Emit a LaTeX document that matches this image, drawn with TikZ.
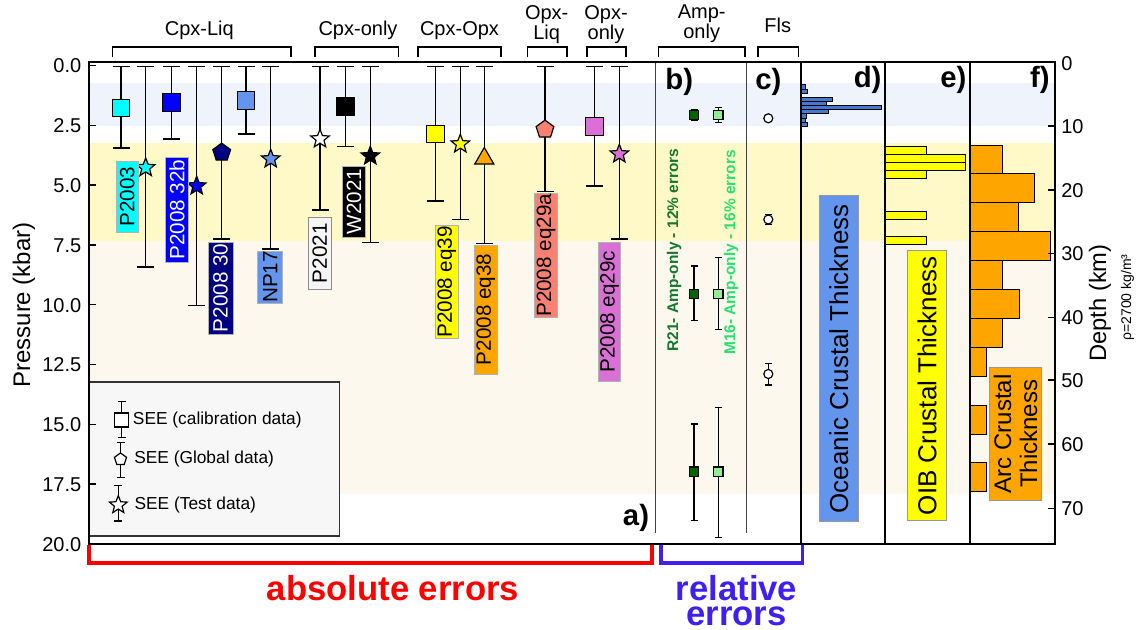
\documentclass[tikz,border=0pt]{standalone}
\usepackage{fontspec}
\setmainfont{Liberation Sans}
\usetikzlibrary{shapes.geometric}
\definecolor{bandblue}{RGB}{238,243,252}
\definecolor{bandyellow}{RGB}{255,249,199}
\definecolor{bandcream}{RGB}{253,248,237}
\definecolor{cyanc}{RGB}{0,255,255}
\definecolor{bluec}{RGB}{0,0,255}
\definecolor{cornfl}{RGB}{100,149,237}
\definecolor{navyc}{RGB}{0,0,128}
\definecolor{yellowc}{RGB}{255,255,0}
\definecolor{orangec}{RGB}{255,165,0}
\definecolor{salmonc}{RGB}{250,128,114}
\definecolor{orchidc}{RGB}{218,112,214}
\definecolor{ltgray}{RGB}{245,245,245}
\definecolor{dgreen}{RGB}{0,100,0}
\definecolor{lgreen}{RGB}{144,238,144}
\definecolor{dgreentxt}{RGB}{20,120,45}
\definecolor{lgreentxt}{RGB}{40,225,110}
\definecolor{histblue}{RGB}{70,120,205}
\definecolor{relblue}{RGB}{64,32,240}
\definecolor{redc}{RGB}{255,0,0}
\definecolor{legfill}{RGB}{247,247,247}
\newcommand\pebar[4]{%
  \draw[ebar] (#1,#2) -- (#1,#3);
  \draw[ebar] (#1-#4,#2) -- (#1+#4,#2);
  \draw[ebar] (#1-#4,#3) -- (#1+#4,#3);}
\newcommand\tbrk[2]{\draw[brk] (#1,56.7) -- (#1,47.3) -- (#2,47.3) -- (#2,56.7);}
\begin{document}
\begin{tikzpicture}[x=0.75pt,y=-0.75pt,
  ebar/.style={line width=0.95pt, black},
  mk/.style={draw=black, line width=0.9pt, inner sep=0pt},
  msq/.style={mk, rectangle, minimum size=13.3pt},
  mstar/.style={mk, star, star points=5, star point ratio=2.3, minimum size=14.5pt},
  mpent/.style={mk, regular polygon, regular polygon sides=5, minimum size=14pt},
  mtri/.style={mk, regular polygon, regular polygon sides=3, minimum size=16.5pt},
  gsq/.style={mk, rectangle, minimum size=7pt},
  circ/.style={mk, circle, fill=white, minimum size=6.75pt},
  rlab/.style={rotate=90, inner sep=0pt, font=\fontsize{15.5}{18}\selectfont, draw=black!30, line width=0.5pt},
  biglab/.style={rotate=90, inner sep=0pt, draw=black!40, line width=0.6pt, align=center},
  frame/.style={line width=1.5pt},
  tk/.style={line width=1.1pt},
  ticklab/.style={font=\fontsize{15}{17}\selectfont, inner sep=0pt},
  toplab/.style={font=\fontsize{15}{11}\selectfont, align=center, inner sep=0pt},
  brk/.style={line width=1.2pt},
  plet/.style={font=\fontsize{22}{26}\selectfont\bfseries, anchor=base east, inner sep=0pt},
  hist/.style={draw=black, line width=0.7pt},
  legtxt/.style={font=\fontsize{13}{15}\selectfont, anchor=west, inner sep=0pt},
  bigtxt/.style={font=\fontsize{26}{28}\selectfont\bfseries, anchor=base, inner sep=0pt}]
\useasboundingbox (0,0) rectangle (1144,630);
\fill[white] (0,0) rectangle (1144,630);
% background bands
\fill[bandblue] (89,82.7) rectangle (1055,126);
\fill[bandyellow] (89,143) rectangle (1055,240.7);
\fill[bandcream] (89,240.7) rectangle (1055,494);
% histogram d
\foreach \a/\b/\r in {84.8/88.95/805, 88.95/93.1/807.3, 97.25/101.4/832, 101.4/105.55/826, 105.55/109.7/881.7, 109.7/113.85/828, 113.85/118/806.7, 118/122.15/805, 122.15/126.3/807.7}
  \draw[hist, line width=0.6pt, fill=histblue] (801,\a) rectangle (\r,\b);
% histogram e
\foreach \a/\r in {146/926, 154.2/965.7, 162.4/965.7, 170.6/926, 211.6/926, 236.2/926}
  \draw[hist, fill=yellowc] (885,\a) rectangle (\r,\a+8.2);
% histogram f
\foreach \a/\b/\r in {145/173.3/1002.3, 173.3/202.8/1034.3, 202.8/231.5/1018.3, 231.5/260.5/1050.7, 260.5/289.7/1002.3, 289.7/318.7/1019, 318.7/347.8/1002.3, 347.8/376.5/986, 405/434/986, 462.7/491.7/986}
  \draw[hist, fill=orangec] (970,\a) rectangle (\r,\b);
% separators
\draw[line width=0.8pt, black!75] (655.7,62.5) -- (655.7,533);
\draw[line width=0.8pt, black!75] (746.7,62.5) -- (746.7,533);
\draw[line width=1.3pt] (801,62.5) -- (801,544);
\draw[line width=1.2pt] (885,62.5) -- (885,544);
\draw[line width=1.2pt] (970,62.5) -- (970,544);
% legend
\draw[line width=1.2pt, draw=black!80, fill=legfill] (89.3,381.7) rectangle (339.3,536);
\pebar{121.7}{401.7}{437.3}{4}
\node[mk, rectangle, minimum size=10.5pt, fill=white] (lg1) at (121.7,420) {};
\node[legtxt] (lt1) at (132.7,420) {SEE (calibration data)};
\pebar{120.5}{442.3}{477.7}{4}
\node[mk, regular polygon, regular polygon sides=5, minimum size=9.5pt, fill=white] (lg2) at (120.5,459.3) {};
\node[legtxt] (lt2) at (134,459.3) {SEE (Global data)};
\pebar{118.3}{485.7}{521}{4}
\node[mk, star, star points=5, star point ratio=2.3, minimum size=14pt, fill=white] (lg3) at (118.3,505) {};
\node[legtxt] (lt3) at (134.3,505) {SEE (Test data)};
% frame
\draw[frame] (89,62.5) rectangle (1055,544);
% left ticks
\foreach \v/\yy [count=\i] in {0.0/65.5, 2.5/125.3, 5.0/185.1, 7.5/244.9, 10.0/304.7, 12.5/364.5, 15.0/424.3, 17.5/484.1, 20.0/543.9}{
  \draw[tk] (89,\yy) -- (96,\yy);
  \node[ticklab, anchor=east] (pl\i) at (81.5,\yy+0.5) {\v};}
% right ticks
\foreach \v/\yy [count=\i] in {10/126, 20/190, 30/253.3, 40/317.3, 50/380, 60/444, 70/508.3}{
  \draw[tk] (1047.5,\yy) -- (1055,\yy);
  \node[ticklab, anchor=west] (dl\i) at (1061,\yy+0.5) {\v};}
\node[ticklab, anchor=west] (dl0) at (1061,64) {0};
% axis titles
\node[rotate=90, font=\fontsize{18}{20}\selectfont] (ptitle) at (24,305) {Pressure (kbar)};
\node[rotate=90, font=\fontsize{17.8}{20}\selectfont] (dtitle) at (1100,303) {Depth (km)};
\node[rotate=90, font=\fontsize{10.5}{12}\selectfont] (rho) at (1127.5,297.5) {ρ=2700 kg/m³};
% top group brackets and labels
\tbrk{112.3}{290.7}
\tbrk{315}{398.3}
\tbrk{417.7}{500.7}
\tbrk{527.3}{566.7}
\tbrk{586.7}{625.7}
\tbrk{658.3}{745}
\tbrk{757.7}{798.3}
\node[toplab, anchor=base] (g1) at (199.3,36) {Cpx-Liq};
\node[toplab, anchor=base] (g2) at (358,36) {Cpx-only};
\node[toplab, anchor=base] (g3) at (459.5,36) {Cpx-Opx};
\node[toplab] (g4) at (546.7,24.5) {Opx-\\Liq};
\node[toplab] (g5) at (606,24.5) {Opx-\\only};
\node[toplab] (g6) at (701.7,24) {Amp-\\only};
\node[toplab, anchor=base] (g7) at (777.7,33) {Fls};
% error bars panel a
\pebar{121}{66.5}{148}{8.5}
\pebar{145.7}{66.5}{267}{8.5}
\pebar{171.7}{66.5}{139}{8.5}
\pebar{196.7}{66.5}{305.7}{8.5}
\pebar{221.7}{66.5}{239}{8.5}
\pebar{246}{66.5}{134}{8.5}
\pebar{270.7}{66.5}{249}{8.5}
\pebar{320}{66.5}{210}{8.5}
\pebar{345.3}{66.5}{146.7}{8.5}
\pebar{370.3}{66.5}{242.3}{8.5}
\pebar{435.3}{66.5}{201}{8.5}
\pebar{460.3}{66.5}{219.7}{8.5}
\pebar{484.3}{66.5}{243.3}{8.5}
\pebar{545}{66.5}{191.7}{8.5}
\pebar{594.3}{66.5}{186}{8.5}
\pebar{619.3}{66.5}{239}{8.5}
% markers panel a
\node[msq, fill=cyanc] (m1) at (121,108) {};
\node[mstar, fill=cyanc] (m2) at (145.7,167.7) {};
\node[msq, fill=bluec] (m3) at (171.7,102.7) {};
\node[mstar, fill=bluec] (m4) at (196.7,186) {};
\node[mpent, fill=navyc] (m5) at (221.7,152.5) {};
\node[msq, fill=cornfl] (m6) at (246,100.7) {};
\node[mstar, fill=cornfl] (m7) at (270.7,159) {};
\node[mstar, fill=white] (m8) at (320,139) {};
\node[msq, fill=black] (m9) at (345.3,106.7) {};
\node[mstar, fill=black] (m10) at (370.3,156) {};
\node[msq, fill=yellowc] (m11) at (435.3,134) {};
\node[mstar, fill=yellowc] (m12) at (460.3,144) {};
\node[mtri, fill=orangec] (m13) at (484.3,158.5) {};
\node[mpent, fill=salmonc] (m14) at (545,129.5) {};
\node[msq, fill=orchidc] (m15) at (594.3,126.7) {};
\node[mstar, fill=orchidc] (m16) at (619.3,154) {};
% rotated labels panel a
\node[rlab, fill=cyanc, minimum width=53.25pt, minimum height=17pt] (l1) at (127.3,196.5) {P2003};
\node[rlab, fill=bluec, text=white, minimum width=78.75pt, minimum height=17pt] (l2) at (177,209.5) {P2008 32b};
\node[rlab, fill=navyc, text=white, minimum width=69pt, minimum height=18.75pt] (l3) at (220.5,288) {P2008 30};
\node[rlab, fill=cornfl, minimum width=39.2pt, minimum height=18.75pt] (l4) at (270.2,277) {NP17};
\node[rlab, fill=ltgray, draw=black!45, minimum width=53.5pt, minimum height=17.8pt] (l5) at (319.8,253.3) {P2021};
\node[rlab, fill=black, text=white, minimum width=53.25pt, minimum height=17pt] (l6) at (354,201.5) {W2021};
\node[rlab, fill=yellowc, minimum width=85.3pt, minimum height=17.25pt] (l7) at (446.8,281.8) {P2008 eq39};
\node[rlab, fill=orangec, minimum width=96.75pt, minimum height=17.5pt] (l8) at (485.7,309.5) {P2008 eq38};
\node[rlab, fill=salmonc, minimum width=93pt, minimum height=17.5pt] (l9) at (546,255.3) {P2008 eq29a};
\node[rlab, fill=orchidc, minimum width=104.8pt, minimum height=16.8pt] (l10) at (609.5,311.8) {P2008 eq29c};
% panel b
\pebar{694}{109.5}{120.5}{3.5}
\pebar{718.3}{107.3}{122.7}{3.5}
\pebar{694}{266}{320.7}{3.5}
\pebar{718.3}{257.3}{329.3}{3.5}
\pebar{694}{424}{520.7}{3.5}
\pebar{718.3}{407.3}{537.3}{3.5}
\node[gsq, fill=dgreen] (b1) at (694,115) {};
\node[gsq, fill=lgreen] (b2) at (718.3,115) {};
\node[gsq, fill=dgreen] (b3) at (694,294) {};
\node[gsq, fill=lgreen] (b4) at (718.3,294) {};
\node[gsq, fill=dgreen] (b5) at (694,471.7) {};
\node[gsq, fill=lgreen] (b6) at (718.3,471.7) {};
\node[rotate=90, inner sep=0pt, font=\fontsize{11.6}{13}\selectfont\bfseries, text=dgreentxt] (bt1) at (674,250) {R21- Amp-only - 12\% errors};
\node[rotate=90, inner sep=0pt, font=\fontsize{11.6}{13}\selectfont\bfseries, text=lgreentxt] (bt2) at (731,252.5) {M16- Amp-only - 16\% errors};
% panel c
\pebar{768.3}{214.3}{224.7}{3.5}
\pebar{768.3}{363.3}{385}{3.5}
\node[circ] (c1) at (768.3,118.3) {};
\node[circ] (c2) at (768.3,219.5) {};
\node[circ] (c3) at (768.3,374) {};
% big labels d e f
\node[biglab, fill=cornfl, font=\fontsize{19.5}{22}\selectfont, minimum width=244.5pt, minimum height=29.25pt] (dl) at (838.8,358.7) {Oceanic Crustal Thickness};
\node[biglab, fill=yellowc, font=\fontsize{19.5}{22}\selectfont, minimum width=202.5pt, minimum height=29.5pt] (el) at (927,385.7) {OIB Crustal Thickness};
\node[biglab, fill=orangec, font=\fontsize{18}{19.5}\selectfont, minimum width=99.5pt, minimum height=39.3pt] (fl) at (1015.5,433.7) {Arc Crustal\\Thickness};
% panel letters
\node[plet] (pa) at (649.3,525) {a)};
\node[plet] (pb) at (693.3,90) {b)};
\node[plet] (pc) at (781.7,90) {c)};
\node[plet] (pd) at (881.7,88) {d)};
\node[plet] (pe) at (966.7,88) {e)};
\node[plet] (pf) at (1050,88) {f)};
% bottom brackets
\draw[line width=2.4pt, redc] (89,545) -- (89,563) -- (652,563) -- (652,545);
\draw[line width=2.4pt, relblue] (661,545) -- (661,563) -- (802.7,563) -- (802.7,545);
\node[bigtxt, text=redc] (abs) at (393,600) {absolute errors};
\node[bigtxt, text=relblue] (rel1) at (736.5,600) {relative};
\node[bigtxt, text=relblue] (rel2) at (736.5,625.5) {errors};
\end{tikzpicture}
\end{document}
